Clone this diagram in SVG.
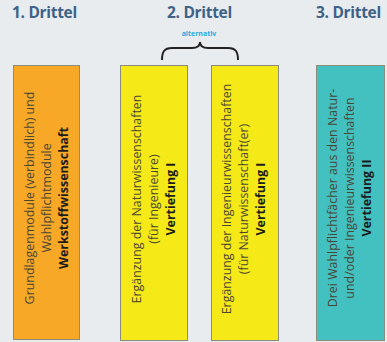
<svg xmlns="http://www.w3.org/2000/svg" width="387" height="342" viewBox="0 0 387 342">
<style>
.title{font-family:"Open Sans","DejaVu Sans",sans-serif;font-weight:bold;font-size:15.5px;letter-spacing:-0.3px;fill:#3e6286}
.alt{font-family:"Open Sans",sans-serif;font-weight:bold;font-size:7px;fill:#2eaae1}
.box{stroke:#8c8c7c;stroke-width:1}
.t{font-family:"Open Sans","DejaVu Sans",sans-serif;font-size:12.4px;fill:#4a4636;text-anchor:middle}
.b{font-weight:bold;fill:#1c1c1c}
</style>
<rect width="387" height="342" fill="#e8ecef"/>
<g id="titles">
<text class="title" x="12" y="18">1. Drittel</text>
<text class="title" x="167" y="18">2. Drittel</text>
<text class="title" x="316" y="18">3. Drittel</text>
</g>
<g id="alternativ">
<text class="alt" x="199" y="36" text-anchor="middle">alternativ</text>
<path d="M162,60 C162,52 164,48 172,48 L192,48 C198,48 200,46 200,42 C200,46 202,48 208,48 L228,48 C236,48 238,52 238,60" fill="none" stroke="#222" stroke-width="2"/>
</g>
<g id="box1">
<rect class="box" x="13.5" y="65.5" width="66" height="274" fill="#f6a826"/>
<text class="t" transform="translate(34,198) rotate(-90)">Grundlagenmodule (verbindlich) und</text>
<text class="t" transform="translate(51,198) rotate(-90)">Wahlpflichtmodule</text>
<text class="t b" transform="translate(68,198) rotate(-90)">Werkstoffwissenschaft</text>
</g>
<g id="box2">
<rect class="box" x="120.5" y="65.5" width="67" height="275" fill="#f5ea18"/>
<text class="t" transform="translate(141,199) rotate(-90)">Ergänzung der Naturwissenschaften</text>
<text class="t" transform="translate(158,199) rotate(-90)">(für Ingenieure)</text>
<text class="t b" transform="translate(175,199) rotate(-90)">Vertiefung I</text>
</g>
<g id="box3">
<rect class="box" x="211.5" y="65.5" width="67" height="275" fill="#f5ea18"/>
<text class="t" transform="translate(231,199) rotate(-90)">Ergänzung der Ingenieurwissenschaften</text>
<text class="t" transform="translate(248,199) rotate(-90)">(für Naturwissenschaft(er)</text>
<text class="t b" transform="translate(265,199) rotate(-90)">Vertiefung I</text>
</g>
<g id="box4">
<rect class="box" x="316.5" y="65.5" width="68" height="275" fill="#42c1c0"/>
<text class="t" transform="translate(337,198) rotate(-90)">Drei Wahlpflichtfächer aus den Natur-</text>
<text class="t" transform="translate(354,198) rotate(-90)">und/oder Ingenieurwissenschaften</text>
<text class="t b" transform="translate(371,198) rotate(-90)">Vertiefung II</text>
</g>
</svg>
